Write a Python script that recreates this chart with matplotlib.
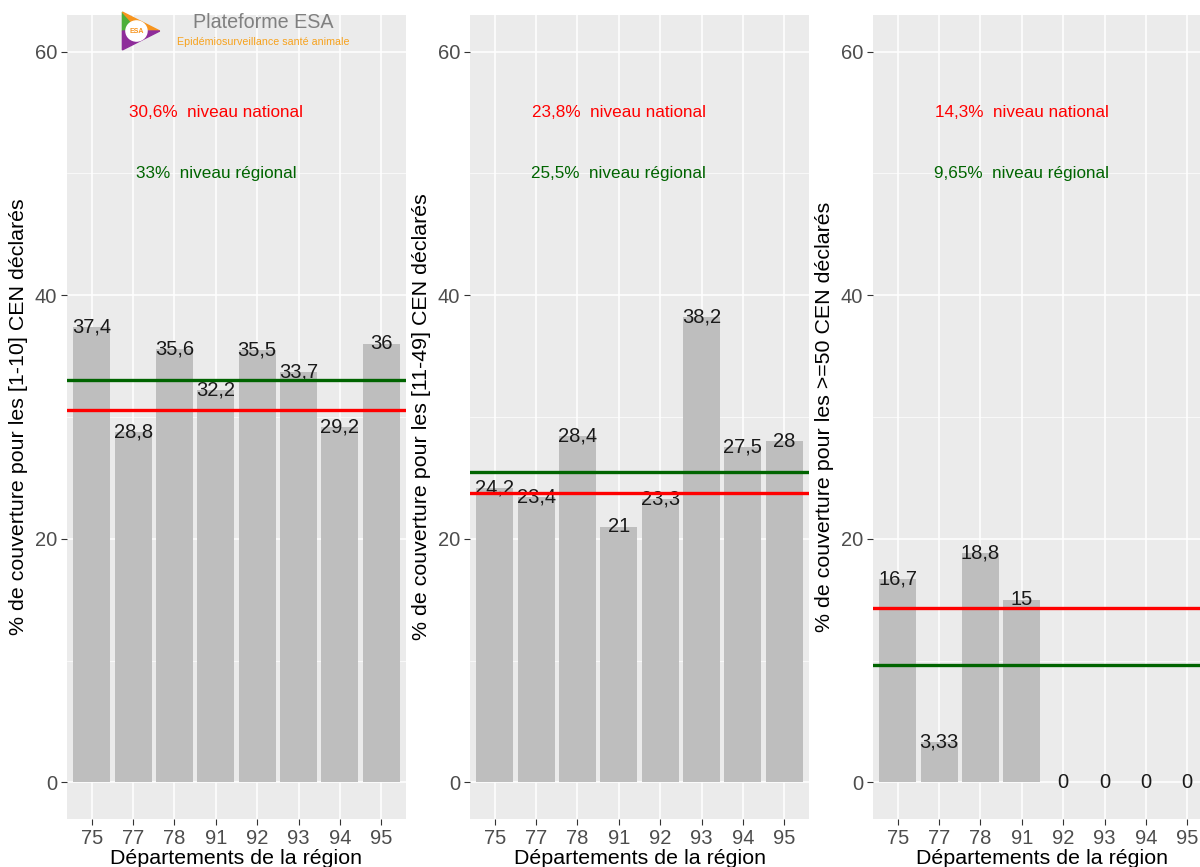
import numpy as np
import matplotlib
matplotlib.use("Agg")
import matplotlib.pyplot as plt
from matplotlib.patches import Polygon, Circle

plt.rcParams['font.family'] = ['Liberation Sans', 'DejaVu Sans']

departements = ['75', '77', '78', '91', '92', '93', '94', '95']
couv_1_10 = [37.4, 28.8, 35.6, 32.2, 35.5, 33.7, 29.2, 36]
couv_11_49 = [24.2, 23.4, 28.4, 21, 23.3, 38.2, 27.5, 28]
couv_50 = [16.7, 3.33, 18.8, 15, 0, 0, 0, 0]
labels_1_10 = ['37,4', '28,8', '35,6', '32,2', '35,5', '33,7', '29,2', '36']
labels_11_49 = ['24,2', '23,4', '28,4', '21', '23,3', '38,2', '27,5', '28']
labels_50 = ['16,7', '3,33', '18,8', '15', '0', '0', '0', '0']
national = [30.6, 23.8, 14.3]
regional = [33, 25.5, 9.65]
national_txt = ['30,6%', '23,8%', '14,3%']
regional_txt = ['33%', '25,5%', '9,65%']
ytitles = ['% de couverture pour les [1-10] CEN déclarés',
           '% de couverture pour les [11-49] CEN déclarés',
           '% de couverture pour les >=50 CEN déclarés']

series = [(couv_1_10, labels_1_10), (couv_11_49, labels_11_49), (couv_50, labels_50)]
lefts = [67, 470, 873]

fig = plt.figure(figsize=(12, 8.67), dpi=100)
x = np.arange(len(departements))

for i, (vals, labs) in enumerate(series):
    ax = fig.add_axes([lefts[i] / 1200, 48 / 867, 339 / 1200, 804 / 867])
    ax.set_facecolor('#EBEBEB')
    for s in ax.spines.values():
        s.set_visible(False)
    ax.bar(x, vals, width=0.9, color='#BEBEBE', zorder=2)
    for xi, v, t in zip(x, vals, labs):
        ax.text(xi, v, t, ha='center', va='center', fontsize=14.5, color='#1a1a1a', zorder=3)
    ax.axhline(national[i], color='#FF0000', lw=2.4, zorder=4)
    ax.axhline(regional[i], color='#006400', lw=2.4, zorder=4)
    ax.text(3, 55, national_txt[i] + '  niveau national', color='#FF0000',
            ha='center', va='center', fontsize=12.3)
    ax.text(3, 50, regional_txt[i] + '  niveau régional', color='#006400',
            ha='center', va='center', fontsize=12.3)
    ax.set_xlim(-0.6, 7.6)
    ax.set_ylim(-3, 63)
    ax.set_xticks(x)
    ax.set_xticklabels(departements)
    ax.set_yticks([0, 20, 40, 60])
    ax.set_yticks([10, 30, 50], minor=True)
    ax.grid(which='major', color='white', lw=1.1, zorder=0)
    ax.grid(which='minor', axis='y', color='white', lw=0.5, zorder=0)
    ax.set_axisbelow(True)
    ax.tick_params(which='major', length=4, color='#333333', labelsize=14.5,
                   labelcolor='#4D4D4D', pad=3)
    ax.tick_params(which='minor', length=0)
    ax.set_xlabel('Départements de la région', fontsize=15.4, color='black', labelpad=1)
    ax.set_ylabel(ytitles[i], fontsize=15.4, color='black', labelpad=5)

# logo Plateforme ESA
la = fig.add_axes([118 / 1200, 1 - 52 / 867, 44 / 1200, 42 / 867])
la.set_xlim(0, 1)
la.set_ylim(0, 1)
la.axis('off')
la.add_patch(Polygon([[0.1, 0.95], [0.1, 0.5], [0.45, 0.55]], closed=True, color='#4CAF3A'))
la.add_patch(Polygon([[0.1, 0.95], [0.95, 0.5], [0.45, 0.55]], closed=True, color='#F7941D'))
la.add_patch(Polygon([[0.1, 0.05], [0.95, 0.5], [0.1, 0.5]], closed=True, color='#8E2C9A'))
la.add_patch(Circle((0.42, 0.5), 0.24, color='white'))
la.text(0.42, 0.48, 'ESA', ha='center', va='center', fontsize=5, color='#F7941D', fontweight='bold')
fig.text(263 / 1200, 1 - 22 / 867, 'Plateforme ESA', ha='center', va='center',
         fontsize=14.2, color='#808080')
fig.text(263 / 1200, 1 - 42 / 867, 'Epidémiosurveillance santé animale', ha='center',
         va='center', fontsize=7.7, color='#F7A21D')

fig.savefig('out.png', dpi=100)
